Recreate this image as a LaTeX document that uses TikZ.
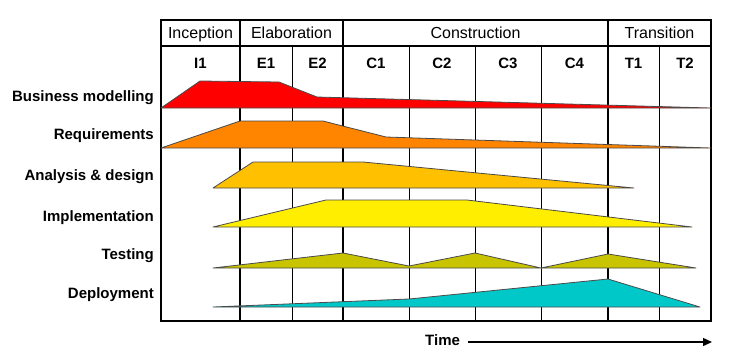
\documentclass[tikz,border=0pt]{standalone}
\usepackage{fontspec}
\setmainfont{Liberation Sans}
\usetikzlibrary{arrows.meta}
\definecolor{bmred}{HTML}{FF0000}
\definecolor{rqorange}{HTML}{FF8400}
\definecolor{adamber}{HTML}{FFC000}
\definecolor{imyellow}{HTML}{FFEE00}
\definecolor{tsolive}{HTML}{C8C400}
\definecolor{dpcyan}{HTML}{00C8C8}
\definecolor{outline}{HTML}{4A4A4A}
\begin{document}
\begin{tikzpicture}[x=1pt,y=-1pt,
  framed/.style={line width=2pt},
  thinline/.style={line width=1pt},
  activity/.style={draw=outline, line width=0.8pt, line join=round},
  phase/.style={anchor=base, inner sep=0pt, font=\fontsize{16}{19}\selectfont},
  iter/.style={anchor=base, inner sep=0pt, font=\bfseries\fontsize{15}{18}\selectfont},
  actlabel/.style={anchor=base east, inner sep=0pt, font=\bfseries\fontsize{15}{18}\selectfont},
]
\useasboundingbox (0,0) rectangle (740,360);
% grid
\foreach \xx in {292,409,475,541,659} \draw[thinline] (\xx,46) -- (\xx,321);
\foreach \xx in {240,343,608} \draw[framed] (\xx,20) -- (\xx,321);
\draw[framed] (161,46) -- (711,46);
\draw[framed] (161,20) rectangle (711,321);
% phases
\node[phase] (inc) at (200.5,38) {Inception};
\node[phase] (ela) at (291.5,38) {Elaboration};
\node[phase] (con) at (475.5,38) {Construction};
\node[phase] (tra) at (659.5,38) {Transition};
% iterations
\node[iter] (i1) at (200.5,68) {I1};
\node[iter] (e1) at (266,68) {E1};
\node[iter] (e2) at (317.5,68) {E2};
\node[iter] (c1) at (376,68) {C1};
\node[iter] (c2) at (442,68) {C2};
\node[iter] (c3) at (508,68) {C3};
\node[iter] (c4) at (574.5,68) {C4};
\node[iter] (t1) at (633.5,68) {T1};
\node[iter] (t2) at (685,68) {T2};
% activity labels
\node[actlabel] (bm) at (154,101) {Business modelling};
\node[actlabel] (rq) at (154,139) {Requirements};
\node[actlabel] (ad) at (154,180) {Analysis \& design};
\node[actlabel] (im) at (154,221) {Implementation};
\node[actlabel] (ts) at (154,259) {Testing};
\node[actlabel] (dp) at (154,298) {Deployment};
% humps
\filldraw[activity, fill=bmred] (161,108) -- (200,81) -- (279,82) -- (317,97) -- (711,108) -- cycle;
\filldraw[activity, fill=rqorange] (161,148) -- (240,121) -- (323,121) -- (386,137) -- (711,148) -- cycle;
\filldraw[activity, fill=adamber] (213,188) -- (253,162) -- (363,162) -- (634,188) -- cycle;
\filldraw[activity, fill=imyellow] (213,227) -- (326,200) -- (467,200) -- (692,227) -- cycle;
\filldraw[activity, fill=tsolive] (213,268) -- (343,253) -- (409,266) -- (475,253) -- (541,268) -- (608,254) -- (696,268) -- cycle;
\filldraw[activity, fill=dpcyan] (213,307) -- (409,299) -- (608,279) -- (700,307) -- cycle;
% time axis
\node[anchor=base west, inner sep=0pt, font=\bfseries\fontsize{15}{18}\selectfont] (time) at (425,345) {Time};
\coordinate (tstart) at (468,342);
\coordinate (tend) at (712,342);
\draw[line width=1.4pt, -{Triangle[length=9pt,width=8pt]}] (tstart) -- (tend);
\end{tikzpicture}
\end{document}
